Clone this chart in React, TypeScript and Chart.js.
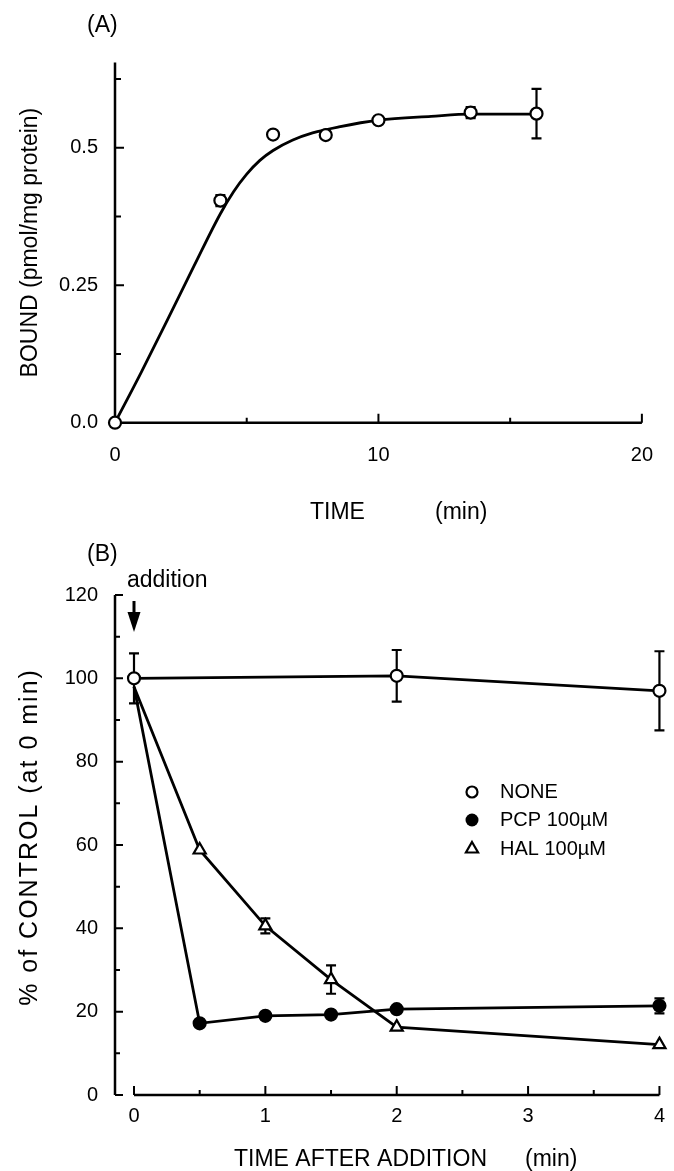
import React, { useEffect, useRef } from 'react';
import { Chart, registerables } from 'chart.js';

Chart.register(...registerables);

const FONT = "'Liberation Sans', Arial, Helvetica, sans-serif";

// ---------- Panel A data ----------
const timeA = [0, 4, 6, 8, 10, 13.5, 16];
const boundA = [0, 0.404, 0.524, 0.523, 0.55, 0.564, 0.562];
const boundErrA = [0, 0.01, 0, 0, 0, 0.01, 0.045];
const fitTimeA = [0, 1, 2, 3, 4, 4.5, 5, 5.5, 6, 6.75, 7.5, 8.5, 10, 12, 13.5, 16];
const fitBoundA = [0, 0.092, 0.188, 0.285, 0.38, 0.42, 0.452, 0.477, 0.495, 0.514, 0.527, 0.538, 0.55, 0.557, 0.561, 0.561];
const xTickLabelsA = [0, 10, 20];
const xTickMarksA = [5, 10, 15, 20];
const yTickLabelsA = [0, 0.25, 0.5];
const yTickTextA = ['0.0', '0.25', '0.5'];
const yTickMarksA = [0.125, 0.25, 0.375, 0.5, 0.625];

// ---------- Panel B data ----------
const timeB = [0, 0.5, 1, 1.5, 2, 4];
const noneTimeB = [0, 2, 4];
const noneB = [100, 100.6, 97];
const noneErrB = [6, 6.2, 9.5];
const pcpB = [98, 17.2, 19, 19.3, 20.6, 21.4];
const pcpErrB = [0, 0, 0, 0, 0, 1.8];
const halB = [98, 58.8, 40.6, 27.7, 16.3, 12.1];
const halErrB = [0, 0, 1.8, 3.4, 0, 0];
const xTickLabelsB = [0, 1, 2, 3, 4];
const xTickMarksB = [0, 0.5, 1, 1.5, 2, 2.5, 3, 3.5, 4];
const yTickLabelsB = [0, 20, 40, 60, 80, 100, 120];
const yTickMarksB = [0, 10, 20, 30, 40, 50, 60, 70, 80, 90, 100, 110, 120];
const legendLabelsB = ['NONE', 'PCP 100\u00B5M', 'HAL 100\u00B5M'];

const AXIS_W = 2.5;

function drawErrBars(ctx: CanvasRenderingContext2D, xs: any, ys: any, xv: number[], yv: number[], ev: number[], half: number) {
  ctx.save();
  ctx.strokeStyle = '#000';
  ctx.lineWidth = 2.2;
  for (let i = 0; i < xv.length; i++) {
    const e = ev[i];
    if (!e) continue;
    const px = xs.getPixelForValue(xv[i]);
    const top = ys.getPixelForValue(yv[i] + e);
    const bot = ys.getPixelForValue(yv[i] - e);
    ctx.beginPath();
    ctx.moveTo(px, top);
    ctx.lineTo(px, bot);
    ctx.moveTo(px - half, top);
    ctx.lineTo(px + half, top);
    ctx.moveTo(px - half, bot);
    ctx.lineTo(px + half, bot);
    ctx.stroke();
  }
  ctx.restore();
}

const panelAPlugin = {
  id: 'panelA',
  beforeDatasetsDraw(chart: any) {
    const { ctx, scales } = chart;
    const xs = scales.x, ys = scales.y;
    const x0 = xs.getPixelForValue(0);
    const y0 = ys.getPixelForValue(0);
    ctx.save();
    ctx.strokeStyle = '#000';
    ctx.lineWidth = AXIS_W;
    ctx.beginPath();
    ctx.moveTo(x0, ys.getPixelForValue(ys.max));
    ctx.lineTo(x0, y0);
    ctx.lineTo(xs.getPixelForValue(xs.max), y0);
    ctx.stroke();
    ctx.lineWidth = 2;
    ctx.beginPath();
    for (const v of yTickMarksA) {
      const py = ys.getPixelForValue(v);
      const len = yTickLabelsA.includes(v) ? 9 : 6;
      ctx.moveTo(x0, py);
      ctx.lineTo(x0 + len, py);
    }
    for (const v of xTickMarksA) {
      const px = xs.getPixelForValue(v);
      const len = xTickLabelsA.includes(v) ? 9 : 5;
      ctx.moveTo(px, y0);
      ctx.lineTo(px, y0 - len);
    }
    ctx.stroke();
    ctx.restore();
    drawErrBars(ctx, xs, ys, timeA, boundA, boundErrA, 5);
  },
  afterDraw(chart: any) {
    const { ctx } = chart;
    ctx.save();
    ctx.fillStyle = '#000';
    ctx.font = `23px ${FONT}`;
    ctx.textBaseline = 'middle';
    ctx.textAlign = 'left';
    ctx.fillText('(A)', 87, 26);
    ctx.fillText('TIME', 310, 513);
    ctx.fillText('(min)', 435, 513);
    ctx.translate(31, (chart.chartArea.top + chart.chartArea.bottom) / 2);
    ctx.rotate(-Math.PI / 2);
    ctx.textAlign = 'center';
    ctx.fillText('BOUND (pmol/mg protein)', 0, 0);
    ctx.restore();
  },
};

const panelBPlugin = {
  id: 'panelB',
  beforeDatasetsDraw(chart: any) {
    const { ctx, scales } = chart;
    const xs = scales.x, ys = scales.y;
    const yAxisX = xs.getPixelForValue(0) - 19;
    const y0 = ys.getPixelForValue(0);
    ctx.save();
    ctx.strokeStyle = '#000';
    ctx.lineWidth = AXIS_W;
    ctx.beginPath();
    ctx.moveTo(yAxisX, ys.getPixelForValue(ys.max));
    ctx.lineTo(yAxisX, y0);
    ctx.moveTo(xs.getPixelForValue(0), y0);
    ctx.lineTo(xs.getPixelForValue(xs.max), y0);
    ctx.stroke();
    ctx.lineWidth = 2;
    ctx.beginPath();
    for (const v of yTickMarksB) {
      const py = ys.getPixelForValue(v);
      const len = yTickLabelsB.includes(v) ? 8 : 5;
      ctx.moveTo(yAxisX, py);
      ctx.lineTo(yAxisX + len, py);
    }
    for (const v of xTickMarksB) {
      const px = xs.getPixelForValue(v);
      const len = xTickLabelsB.includes(v) ? 9 : 5;
      ctx.moveTo(px, y0);
      ctx.lineTo(px, y0 - len);
    }
    ctx.stroke();
    ctx.restore();
    drawErrBars(ctx, xs, ys, noneTimeB, noneB, noneErrB, 5);
    drawErrBars(ctx, xs, ys, timeB, pcpB, pcpErrB, 5);
    drawErrBars(ctx, xs, ys, timeB, halB, halErrB, 5);
  },
  afterDraw(chart: any) {
    const { ctx, scales } = chart;
    const xs = scales.x;
    ctx.save();
    ctx.fillStyle = '#000';
    ctx.strokeStyle = '#000';
    ctx.font = `23px ${FONT}`;
    ctx.textBaseline = 'middle';
    ctx.textAlign = 'left';
    ctx.fillText('(B)', 87, 15);
    ctx.textBaseline = 'alphabetic';
    ctx.fillText('addition', 127, 47);
    ctx.textBaseline = 'middle';
    ctx.fillText('TIME AFTER ADDITION', 234, 620);
    ctx.fillText('(min)', 525, 620);

    // arrow
    const ax = xs.getPixelForValue(0);
    ctx.lineWidth = 3;
    ctx.beginPath();
    ctx.moveTo(ax, 61);
    ctx.lineTo(ax, 75);
    ctx.stroke();
    ctx.beginPath();
    ctx.moveTo(ax - 6.5, 72);
    ctx.lineTo(ax + 6.5, 72);
    ctx.lineTo(ax, 92);
    ctx.closePath();
    ctx.fill();

    // legend
    const lx = 472;
    const lys = [252, 280, 309];
    ctx.font = `20px ${FONT}`;
    ctx.lineWidth = 2.2;
    ctx.beginPath();
    ctx.arc(lx, lys[0], 5.5, 0, Math.PI * 2);
    ctx.fillStyle = '#fff';
    ctx.fill();
    ctx.stroke();
    ctx.fillStyle = '#000';
    ctx.beginPath();
    ctx.arc(lx, lys[1], 6.5, 0, Math.PI * 2);
    ctx.fill();
    const r = 7;
    ctx.beginPath();
    ctx.moveTo(lx, lys[2] - r);
    ctx.lineTo(lx + r * 0.866, lys[2] + r * 0.5);
    ctx.lineTo(lx - r * 0.866, lys[2] + r * 0.5);
    ctx.closePath();
    ctx.stroke();
    legendLabelsB.forEach((t, i) => ctx.fillText(t, 500, lys[i]));

    // y title
    ctx.font = `25px ${FONT}`;
    (ctx as any).letterSpacing = '2px';
    ctx.translate(30, (chart.chartArea.top + chart.chartArea.bottom) / 2 - 8);
    ctx.rotate(-Math.PI / 2);
    ctx.textAlign = 'center';
    ctx.fillText('% of CONTROL (at 0 min)', 0, 0);
    ctx.restore();
  },
};

function configA(): any {
  return {
    type: 'scatter',
    data: {
      datasets: [
        {
          label: 'data',
          data: timeA.map((t, i) => ({ x: t, y: boundA[i] })),
          pointStyle: 'circle',
          pointRadius: 6,
          pointBorderWidth: 2.2,
          pointBackgroundColor: '#fff',
          pointBorderColor: '#000',
          showLine: false,
          clip: false,
        },
        {
          label: 'fit',
          data: fitTimeA.map((t, i) => ({ x: t, y: fitBoundA[i] })),
          showLine: true,
          borderColor: '#000',
          borderWidth: 2.8,
          pointRadius: 0,
          cubicInterpolationMode: 'monotone',
          clip: false,
        },
      ],
    },
    options: {
      responsive: false,
      animation: false,
      devicePixelRatio: 1,
      layout: { padding: { left: 0, right: 19, top: 62.5, bottom: 0 } },
      plugins: { legend: { display: false }, tooltip: { enabled: false } },
      scales: {
        x: {
          type: 'linear',
          min: 0,
          max: 20,
          grid: { display: false, drawTicks: false },
          border: { display: false },
          afterBuildTicks: (s: any) => { s.ticks = xTickLabelsA.map((v) => ({ value: v })); },
          afterFit: (s: any) => { s.height = 117.3; },
          ticks: { font: { family: FONT, size: 20 }, color: '#000', padding: 21, maxRotation: 0, autoSkip: false },
        },
        y: {
          type: 'linear',
          min: 0,
          max: 0.655,
          grid: { display: false, drawTicks: false },
          border: { display: false },
          afterBuildTicks: (s: any) => { s.ticks = yTickLabelsA.map((v) => ({ value: v })); },
          afterFit: (s: any) => { s.width = 115; },
          ticks: {
            font: { family: FONT, size: 20 },
            color: '#000',
            padding: 17,
            callback: (v: number) => {
              const i = yTickLabelsA.indexOf(v);
              return i >= 0 ? yTickTextA[i] : '';
            },
          },
        },
      },
    },
    plugins: [panelAPlugin],
  };
}

function configB(): any {
  const base = {
    showLine: true,
    borderColor: '#000',
    borderWidth: 2.8,
    pointBorderColor: '#000',
    pointBorderWidth: 2.2,
    clip: false,
  };
  return {
    type: 'scatter',
    data: {
      datasets: [
        {
          ...base,
          label: 'NONE',
          data: noneTimeB.map((t, i) => ({ x: t, y: noneB[i] })),
          pointStyle: 'circle',
          pointRadius: 6,
          pointBackgroundColor: '#fff',
        },
        {
          ...base,
          label: 'PCP 100\u00B5M',
          data: timeB.map((t, i) => ({ x: t, y: pcpB[i] })),
          pointStyle: 'circle',
          pointRadius: timeB.map((t) => (t === 0 ? 0 : 6)),
          pointBackgroundColor: '#000',
        },
        {
          ...base,
          label: 'HAL 100\u00B5M',
          data: timeB.map((t, i) => ({ x: t, y: halB[i] })),
          pointStyle: 'triangle',
          pointRadius: timeB.map((t) => (t === 0 ? 0 : 7)),
          pointBackgroundColor: '#fff',
        },
      ],
    },
    options: {
      responsive: false,
      animation: false,
      devicePixelRatio: 1,
      layout: { padding: { left: 0, right: 13, top: 55, bottom: 0 } },
      plugins: { legend: { display: false }, tooltip: { enabled: false } },
      scales: {
        x: {
          type: 'linear',
          min: 0,
          max: 4,
          grid: { display: false, drawTicks: false },
          border: { display: false },
          afterBuildTicks: (s: any) => { s.ticks = xTickLabelsB.map((v) => ({ value: v })); },
          afterFit: (s: any) => { s.height = 76; },
          ticks: { font: { family: FONT, size: 20 }, color: '#000', padding: 9, maxRotation: 0, autoSkip: false },
        },
        y: {
          type: 'linear',
          min: 0,
          max: 120,
          grid: { display: false, drawTicks: false },
          border: { display: false },
          afterBuildTicks: (s: any) => { s.ticks = yTickLabelsB.map((v) => ({ value: v })); },
          afterFit: (s: any) => { s.width = 134; },
          ticks: { font: { family: FONT, size: 20 }, color: '#000', padding: 36 },
        },
      },
    },
    plugins: [panelBPlugin],
  };
}

export default function App() {
  const refA = useRef<HTMLCanvasElement>(null);
  const refB = useRef<HTMLCanvasElement>(null);
  useEffect(() => {
    document.body.style.margin = '0';
    const a = new Chart(refA.current as HTMLCanvasElement, configA());
    const b = new Chart(refB.current as HTMLCanvasElement, configB());
    return () => {
      a.destroy();
      b.destroy();
    };
  }, []);
  return (
    <div style={{ position: 'relative', width: 674, height: 1171, background: '#fff', overflow: 'hidden' }}>
      <canvas ref={refA} width={674} height={540} style={{ position: 'absolute', left: 0, top: 0, width: 674, height: 540 }} />
      <canvas ref={refB} width={674} height={631} style={{ position: 'absolute', left: 0, top: 540, width: 674, height: 631 }} />
    </div>
  );
}
